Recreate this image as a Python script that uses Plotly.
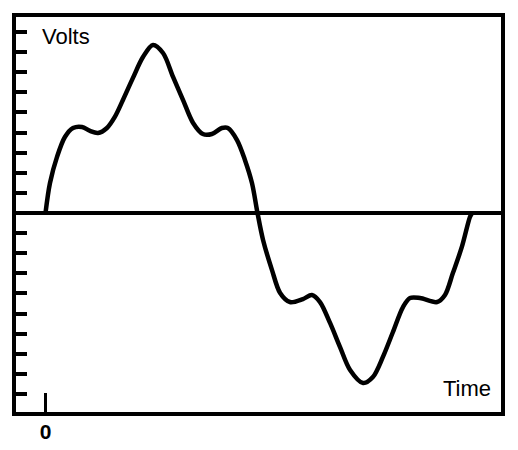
import plotly.graph_objects as go

# Time (ms) and voltage samples
time_ms = [0, 0.21, 0.54, 0.91, 1.29, 1.71, 2.09, 2.46, 2.88, 3.25, 3.63, 4.10, 4.57, 5.04,
           5.51, 5.98, 6.45, 6.92, 7.38, 7.80, 8.27, 8.55, 8.98, 9.35, 9.68, 9.94,
           10.20, 10.62, 11.00, 11.46, 12.07, 12.49, 12.87, 13.34, 13.81, 14.28, 14.89,
           15.35, 15.82, 16.29, 16.76, 17.09, 17.56, 18.36, 18.73, 19.10, 19.52, 19.90, 20.0]
volts = [0, 1.49, 2.79, 3.78, 4.23, 4.28, 4.08, 3.98, 4.23, 4.78, 5.62, 6.72, 7.76, 8.36,
         7.96, 6.77, 5.62, 4.48, 3.93, 3.93, 4.23, 4.23, 3.63, 2.64, 1.49, 0,
         -1.34, -2.84, -3.98, -4.43, -4.28, -4.08, -4.43, -5.47, -6.67, -7.81, -8.46,
         -8.16, -7.16, -5.92, -4.68, -4.23, -4.23, -4.43, -4.08, -2.99, -1.69, -0.20, 0]

y_ticks = [-9, -8, -7, -6, -5, -4, -3, -2, -1, 1, 2, 3, 4, 5, 6, 7, 8, 9]
x_ticks = [0]
x_tick_labels = ["<b>0</b>"]

FONT = "Liberation Sans, Arial, sans-serif"

fig = go.Figure()
fig.add_trace(go.Scatter(
    x=time_ms, y=volts, mode="lines",
    line=dict(color="black", width=4.5, shape="spline", smoothing=0.9),
    hoverinfo="skip", showlegend=False,
))

fig.update_layout(
    width=502, height=434,
    margin=dict(l=6, r=7, t=7, b=28, autoexpand=False),
    paper_bgcolor="white", plot_bgcolor="white",
    font=dict(family=FONT, color="black"),
    xaxis=dict(
        range=[-1.477, 21.45], showgrid=False, zeroline=False, showline=False,
        tickmode="array", tickvals=x_ticks, ticktext=x_tick_labels,
        ticks="inside", ticklen=21, tickwidth=3, tickcolor="black",
        tickfont=dict(size=21, family=FONT, color="black"),
        ticklabelstandoff=3, automargin=False,
        fixedrange=True,
    ),
    yaxis=dict(
        range=[-10.0, 9.85], showgrid=False, showline=False,
        zeroline=True, zerolinewidth=4, zerolinecolor="black",
        tickmode="array", tickvals=y_ticks, showticklabels=False,
        ticks="inside", ticklen=13, tickwidth=4, tickcolor="black",
        automargin=False, fixedrange=True,
    ),
    shapes=[dict(type="rect", xref="paper", yref="paper", x0=0, x1=1, y0=0, y1=1,
                 line=dict(color="black", width=4), layer="above")],
    annotations=[
        dict(text="Volts", xref="paper", yref="paper", x=(40 - 14) / 489, y=(414 - 36) / 399,
             xanchor="left", yanchor="middle", showarrow=False,
             font=dict(size=22, family=FONT, color="black")),
        dict(text="Time", xref="paper", yref="paper", x=(493 - 14) / 489, y=(414 - 388) / 399,
             xanchor="right", yanchor="middle", showarrow=False,
             font=dict(size=22, family=FONT, color="black")),
    ],
)

fig.write_html("out.html")
